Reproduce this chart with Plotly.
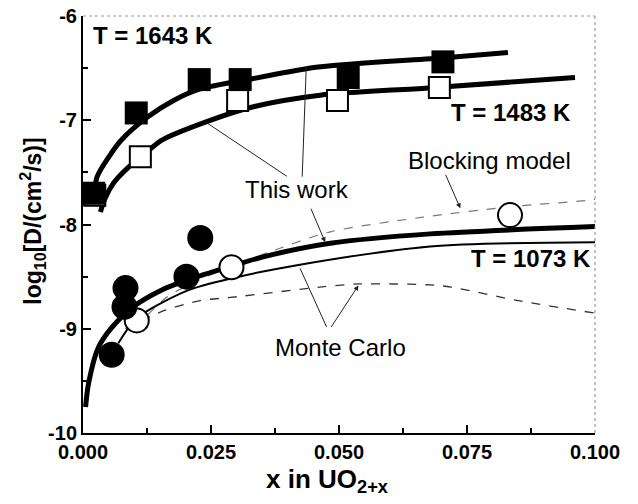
import plotly.graph_objects as go

# ---- data ----
sq1643_x = [0.0021, 0.0104, 0.0227, 0.0307, 0.0518, 0.0703]
sq1643_y = [-7.70, -6.93, -6.61, -6.61, -6.59, -6.44]

sq1483_x = [0.0023, 0.0112, 0.0302, 0.0497, 0.0696]
sq1483_y = [-7.72, -7.35, -6.81, -6.81, -6.685]

ci1073_x = [0.0056, 0.0083, 0.0081, 0.0202, 0.0229]
ci1073_y = [-9.25, -8.61, -8.79, -8.50, -8.13]

oc1073_x = [0.0105, 0.0290, 0.0834]
oc1073_y = [-8.92, -8.41, -7.91]

fit1643_x = [0.0022, 0.0027, 0.0050, 0.0075, 0.0126, 0.0177, 0.0229, 0.0333, 0.0459, 0.0707, 0.0830]
fit1643_y = [-7.78, -7.55, -7.355, -7.19, -6.97, -6.81, -6.70, -6.60, -6.49, -6.40, -6.35]

fit1483_x = [0.0034, 0.0043, 0.0060, 0.0089, 0.0121, 0.0154, 0.0243, 0.0333, 0.0463, 0.0674, 0.0961]
fit1483_y = [-7.88, -7.75, -7.60, -7.45, -7.32, -7.19, -7.01, -6.87, -6.76, -6.69, -6.59]

fit1073_x = [0.0005, 0.0011, 0.0030, 0.0056, 0.0095, 0.0153, 0.0206, 0.0290, 0.0352, 0.0483, 0.0678, 0.1000]
fit1073_y = [-9.75, -9.52, -9.18, -8.99, -8.80, -8.63, -8.53, -8.40, -8.31, -8.18, -8.09, -8.02]

mc_solid_x = [0.0069, 0.0105, 0.0206, 0.0296, 0.0418, 0.0678, 0.1000]
mc_solid_y = [-9.14, -8.90, -8.63, -8.51, -8.39, -8.21, -8.17]

block_x = [0.0103, 0.0160, 0.0206, 0.0290, 0.0372, 0.0483, 0.0664, 0.0834, 0.0984, 0.1000]
block_y = [-8.99, -8.71, -8.58, -8.40, -8.25, -8.07, -7.93, -7.83, -7.77, -7.76]

mc_dash_x = [0.0083, 0.0151, 0.0229, 0.0288, 0.0483, 0.0541, 0.0678, 0.0719, 0.0850, 0.1000]
mc_dash_y = [-9.00, -8.84, -8.73, -8.70, -8.59, -8.57, -8.58, -8.60, -8.73, -8.85]

x_tickvals = [0.0, 0.025, 0.05, 0.075, 0.1]
x_ticktext = ["0.000", "0.025", "0.050", "0.075", "0.100"]
y_tickvals = [-10, -9, -8, -7, -6]
y_ticktext = ["-10", "-9", "-8", "-7", "-6"]

FONT = "Liberation Sans, Arial, sans-serif"

fig = go.Figure()

def line(x, y, width, color="black", dash="solid"):
    fig.add_trace(go.Scatter(x=x, y=y, mode="lines",
                             line=dict(color=color, width=width, dash=dash, shape="spline", smoothing=0.8),
                             hoverinfo="skip", showlegend=False))

line(mc_dash_x, mc_dash_y, 1.3, "#333333", "dash")
line(block_x, block_y, 1.2, "#777777", "dash")
line(mc_solid_x, mc_solid_y, 2)
line(fit1073_x, fit1073_y, 5)
line(fit1483_x, fit1483_y, 5)
line(fit1643_x, fit1643_y, 5)

fig.add_trace(go.Scatter(x=sq1483_x, y=sq1483_y, mode="markers", showlegend=False,
                         marker=dict(symbol="square", size=21, color="white",
                                     line=dict(color="black", width=2))))
fig.add_trace(go.Scatter(x=sq1643_x, y=sq1643_y, mode="markers", showlegend=False,
                         marker=dict(symbol="square", size=23, color="black",
                                     line=dict(color="black", width=0))))
fig.add_trace(go.Scatter(x=oc1073_x, y=oc1073_y, mode="markers", showlegend=False,
                         marker=dict(symbol="circle", size=24, color="white",
                                     line=dict(color="black", width=2))))
fig.add_trace(go.Scatter(x=ci1073_x, y=ci1073_y, mode="markers", showlegend=False,
                         marker=dict(symbol="circle", size=26, color="black",
                                     line=dict(color="black", width=0))))

# pointer lines
pointers = [
    (0.0401, -7.547, 0.0243, -7.029, 0),
    (0.0428, -7.556, 0.0436, -6.492, 0),
    (0.0444, -7.834, 0.0473, -8.170, 2),
    (0.0707, -7.509, 0.0737, -7.845, 2),
    (0.0477, -8.996, 0.0424, -8.421, 0),
    (0.0483, -8.996, 0.0538, -8.584, 2),
]
for tx, ty, hx, hy, head in pointers:
    fig.add_annotation(x=hx, y=hy, ax=tx, ay=ty, xref="x", yref="y", axref="x", ayref="y",
                       text="", showarrow=True, arrowhead=head, arrowsize=1, arrowwidth=1,
                       arrowcolor="#222222", standoff=0, startstandoff=0)

labels = [
    ("<b>T = 1643 K</b>", 0.0015, -6.185, "left"),
    ("<b>T = 1483 K</b>", 0.0957, -6.924, "right"),
    ("<b>T = 1073 K</b>", 0.0997, -8.324, "right"),
    ("Blocking model", 0.0957, -7.384, "right"),
    ("This work", 0.04176, -7.663, "center"),
    ("Monte Carlo", 0.05034, -9.177, "center"),
]
for t, x, y, xa in labels:
    fig.add_annotation(x=x, y=y, xref="x", yref="y", text=t, showarrow=False,
                       xanchor=xa, yanchor="middle", font=dict(family=FONT, size=24, color="black"))

# axis titles
fig.add_annotation(x=0.477, y=-0.115, xref="paper", yref="paper", showarrow=False,
                   text="<b>x in UO<sub>2+x</sub></b>", xanchor="center", yanchor="middle",
                   font=dict(family=FONT, size=26, color="black"))
fig.add_annotation(x=-0.0985, y=0.508, xref="paper", yref="paper", showarrow=False,
                   text="<b>log<sub>10</sub>[D/(cm<sup>2</sup>/s)]</b>", textangle=-90,
                   xanchor="center", yanchor="middle",
                   font=dict(family=FONT, size=23, color="black"))

# top/right frame (grey dotted)
fig.add_shape(type="line", xref="paper", yref="paper", x0=0, x1=1, y0=1, y1=1,
              line=dict(color="#999999", width=1.2, dash="dot"))
fig.add_shape(type="line", xref="paper", yref="paper", x0=1, x1=1, y0=0, y1=1,
              line=dict(color="#999999", width=1.2, dash="dot"))

fig.update_layout(
    width=638, height=504,
    margin=dict(l=82.5, r=43, t=16, b=71, autoexpand=False),
    paper_bgcolor="white", plot_bgcolor="white",
    font=dict(family=FONT, color="black"),
    xaxis=dict(range=[0, 0.1], tickvals=x_tickvals, ticktext=x_ticktext, automargin=False,
               ticklabeloverflow="allow",
               ticks="inside", ticklen=8, tickwidth=2, tickcolor="black",
               minor=dict(ticks="inside", ticklen=5, tickwidth=1.5, dtick=0.0125, tick0=0, tickcolor="black"),
               showline=True, linecolor="black", linewidth=2, showgrid=False, zeroline=False,
               tickfont=dict(family=FONT, size=20, color="black", weight="bold")),
    yaxis=dict(range=[-10, -6], tickvals=y_tickvals, ticktext=y_ticktext, automargin=False,
               ticklabeloverflow="allow",
               ticks="inside", ticklen=8, tickwidth=2, tickcolor="black",
               minor=dict(ticks="inside", ticklen=5, tickwidth=1.5, dtick=0.5, tick0=-10, tickcolor="black"),
               showline=True, linecolor="black", linewidth=2, showgrid=False, zeroline=False,
               tickfont=dict(family=FONT, size=20, color="black", weight="bold")),
)

fig.write_html("out.html", config={"displayModeBar": False},
               post_script="document.body.style.margin='0';document.body.style.overflow='hidden';")
